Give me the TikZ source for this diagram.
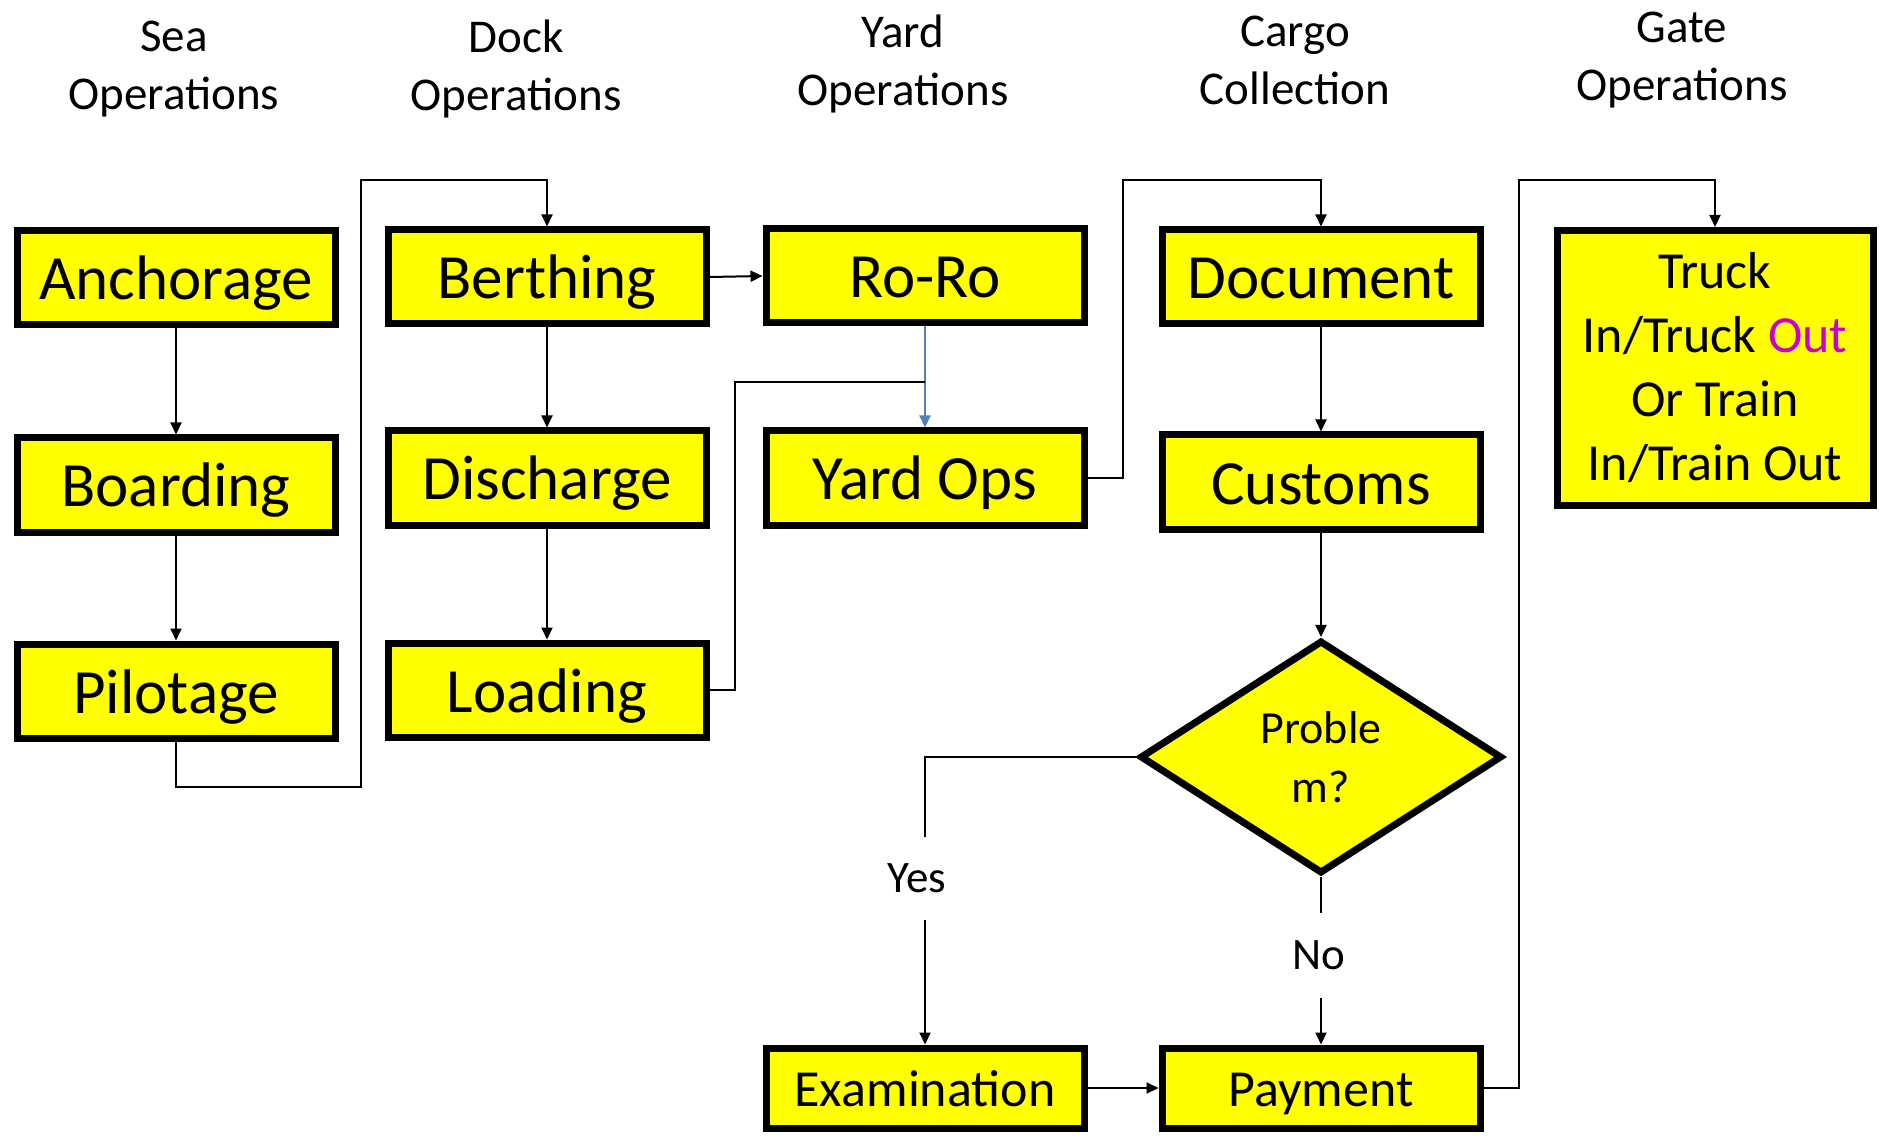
\documentclass[tikz,border=0pt]{standalone}
\usepackage{fontspec}
\setmainfont{Carlito}
\usetikzlibrary{arrows.meta,shapes.geometric}
\definecolor{boxyellow}{RGB}{255,255,0}
\definecolor{linkblue}{RGB}{79,129,189}
\definecolor{outpink}{RGB}{204,0,204}

\begin{document}
\begin{tikzpicture}[x=1pt,y=-1pt,-{Triangle[length=12pt,width=11pt]},line width=2pt,
  opbox/.style={draw,fill=boxyellow,line width=7pt,inner sep=0pt,minimum width=318pt,minimum height=94pt,text height=53pt,text depth=9pt,font=\fontsize{63}{76}\selectfont},
  lowbox/.style={opbox,minimum height=80pt,text height=44pt,text depth=8pt,font=\fontsize{52}{63}\selectfont},
  gatebox/.style={draw,fill=boxyellow,line width=7pt,inner sep=0pt,minimum width=316pt,minimum height=275pt,align=center,font=\fontsize{52}{64}\selectfont},
  decide/.style={diamond,draw,fill=boxyellow,line width=7pt,inner sep=0pt,aspect=1.5,minimum width=362pt,minimum height=233pt,align=center,font=\fontsize{46}{59}\selectfont},
  head/.style={align=center,font=\fontsize{47}{58}\selectfont},
  lbl/.style={fill=white,inner sep=0pt,font=\fontsize{45}{54}\selectfont}]
  \useasboundingbox (0,0) rectangle (1883,1139);

  % column headers
  \node[head] (hsea) at (174,69) {Sea\\Operations};
  \node[head] (hdock) at (516,69) {Dock\\Operations};
  \node[head] (hyard) at (903,64) {Yard\\Operations};
  \node[head] (hcargo) at (1295,60) {Cargo\\Collection};
  \node[head] (hgate) at (1682,60) {Gate\\Operations};

  % sea
  \node[opbox] (anch) at (176,278) {Anchorage};
  \node[opbox] (board) at (176,485) {Boarding};
  \node[opbox] (pilot) at (176,691) {Pilotage};

  % dock
  \node[opbox] (berth) at (547,277) {Berthing};
  \node[opbox] (disch) at (547,478) {Discharge};
  \node[opbox] (load) at (547,690) {Loading};

  % yard
  \node[opbox] (roro) at (925,276) {Ro-Ro};
  \node[opbox] (yard) at (925,478) {Yard Ops};
  \node[lowbox] (exam) at (925,1088) {Examination};

  % cargo collection
  \node[opbox] (doc) at (1321,277) {Document};
  \node[opbox] (cust) at (1321,482) {Customs};
  \node[decide] (prob) at (1321,757) {Proble\\m?};
  \node[lowbox] (pay) at (1321,1088) {Payment};

  % gate
  \node[gatebox] (gate) at (1715,368) {Truck\\In/Truck \textcolor{outpink}{Out}\\Or Train\\In/Train Out};

  \coordinate (c1) at (361,787);
  \coordinate (c2) at (361,180);
  \coordinate (c3) at (735,382);
  \coordinate (c4) at (1123,180);
  \coordinate (c5) at (1519,180);

  \foreach \from/\to in {anch/board,board/pilot,berth/disch,disch/load,doc/cust,cust/prob}
    \draw (\from) -- (\to);

  \draw (pilot.south) |- (c1) -- (c2) -| (berth.north);
  \draw (berth.east) -- (roro.west);
  \draw[linkblue] (roro) -- (yard);
  \draw[-] (load.east) -| (c3) -- (yard.north |- c3);
  \draw (yard.east) -| (c4) -| (doc.north);
  \draw (prob.west) -| (exam.north);
  \draw (prob.south) -- (pay.north);
  \draw (exam) -- (pay);
  \draw (pay.east) -| (c5) -| (gate.north);

  \node[lbl,minimum height=83pt] (yes) at (917,878) {Yes};
  \node[lbl,minimum height=85pt] (no) at (1319,955) {No};

\end{tikzpicture}
\end{document}
